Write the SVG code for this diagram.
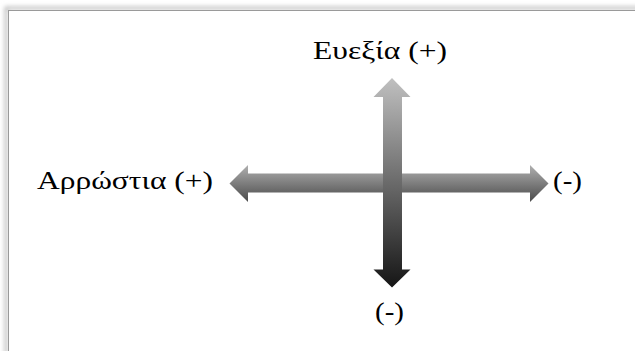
<svg xmlns="http://www.w3.org/2000/svg" width="635" height="351" viewBox="0 0 635 351">
<defs>
<linearGradient id="gh" x1="0" y1="0" x2="0" y2="1">
<stop offset="0" stop-color="#b0b0b0"/>
<stop offset="1" stop-color="#4a4a4a"/>
</linearGradient>
<linearGradient id="gv" x1="0" y1="0" x2="0" y2="1">
<stop offset="0" stop-color="#c0c0c0"/>
<stop offset="1" stop-color="#151515"/>
</linearGradient>
<filter id="sh" x="-10%" y="-10%" width="120%" height="120%">
<feGaussianBlur stdDeviation="2"/>
</filter>
<style>
.t{font-family:"Liberation Serif","Times New Roman",serif;font-size:26px;fill:#000}
</style>
</defs>
<rect width="635" height="351" fill="#ffffff"/>
<g id="frame">
<path d="M6,360 V8 H640" fill="none" stroke="#bbbbbb" stroke-width="3" filter="url(#sh)"/>
<rect x="8.5" y="10.5" width="640" height="360" fill="#ffffff" stroke="#9a9a9a" stroke-width="1"/>
</g>
<g id="connectors">
<g id="horizontal-arrow">
<polygon points="229.5,183.5 248,165 248,173.5 530,173.5 530,165 548.5,183.5 530,202 530,192.5 248,192.5 248,202" fill="url(#gh)"/>
</g>
<g id="vertical-arrow">
<polygon points="392,78 410.5,97 402,97 402,269.5 410.5,269.5 392,287.5 373.5,269.5 383,269.5 383,97 373.5,97" fill="url(#gv)"/>
</g>
</g>
<g id="node-top"><text class="t" x="313" y="59" textLength="134" lengthAdjust="spacingAndGlyphs">Ευεξία (+)</text></g>
<g id="node-left"><text class="t" x="37" y="189" textLength="176" lengthAdjust="spacingAndGlyphs">Αρρώστια (+)</text></g>
<g id="node-right"><text class="t" x="553" y="189" textLength="29" lengthAdjust="spacingAndGlyphs">(-)</text></g>
<g id="node-bottom"><text class="t" x="375" y="320" textLength="29" lengthAdjust="spacingAndGlyphs">(-)</text></g>
</svg>
